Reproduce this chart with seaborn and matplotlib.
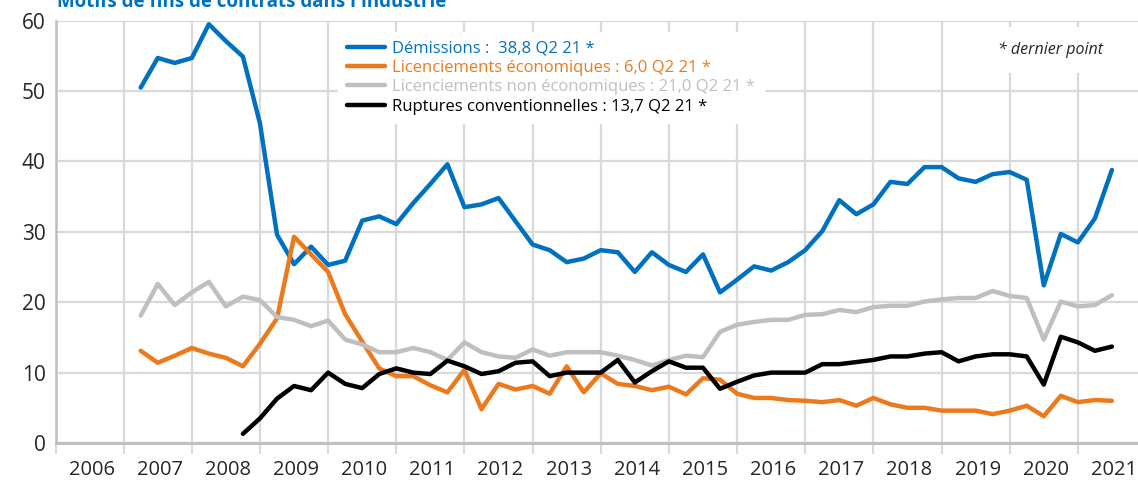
import numpy as np
import pandas as pd
import seaborn as sns
import matplotlib.pyplot as plt

# quarterly data, 2007 Q1 -> 2021 Q2
start_year = 2007
n_quarters = 58

demissions = [50.5, 54.7, 54.0, 54.7, 59.5, 57.1, 54.9, 45.4, 29.6, 25.4,
              27.9, 25.3, 25.9, 31.6, 32.2, 31.1, 34.1, 36.8, 39.6, 33.5,
              33.9, 34.8, 31.5, 28.2, 27.4, 25.7, 26.2, 27.4, 27.1, 24.3,
              27.1, 25.3, 24.3, 26.8, 21.4, 23.2, 25.1, 24.5, 25.7, 27.4,
              30.1, 34.5, 32.5, 33.9, 37.1, 36.8, 39.2, 39.2, 37.6, 37.1,
              38.2, 38.5, 37.4, 22.4, 29.7, 28.5, 31.9, 38.8]
licenciements_eco = [13.1, 11.4, 12.4, 13.5, 12.7, 12.1, 10.9, 14.1, 17.7, 29.3,
                     26.8, 24.3, 18.3, 14.4, 10.6, 9.5, 9.5, 8.2, 7.2, 10.4,
                     4.8, 8.4, 7.6, 8.1, 7.0, 10.9, 7.2, 9.9, 8.4, 8.1,
                     7.5, 8.0, 6.9, 9.2, 9.0, 7.0, 6.4, 6.4, 6.1, 6.0,
                     5.8, 6.1, 5.3, 6.4, 5.5, 5.0, 5.0, 4.6, 4.6, 4.6,
                     4.1, 4.6, 5.3, 3.8, 6.7, 5.8, 6.1, 6.0]
licenciements_non_eco = [18.1, 22.6, 19.6, 21.4, 22.9, 19.4, 20.8, 20.3, 17.9, 17.5,
                         16.6, 17.4, 14.7, 14.0, 12.9, 12.9, 13.5, 12.9, 11.8, 14.3,
                         12.9, 12.3, 12.1, 13.3, 12.4, 12.9, 12.9, 12.9, 12.4, 11.8,
                         11.0, 11.8, 12.4, 12.2, 15.8, 16.8, 17.2, 17.5, 17.5, 18.2,
                         18.3, 18.9, 18.6, 19.3, 19.5, 19.5, 20.1, 20.4, 20.6, 20.6,
                         21.6, 20.9, 20.6, 14.7, 20.1, 19.4, 19.6, 21.0]
ruptures = [np.nan, np.nan, np.nan, np.nan, np.nan, np.nan, 1.3, 3.5, 6.3, 8.1,
            7.5, 10.0, 8.4, 7.8, 9.8, 10.6, 10.0, 9.8, 11.7, 10.9,
            9.8, 10.2, 11.4, 11.6, 9.5, 10.0, 10.0, 10.0, 11.8, 8.6,
            10.2, 11.6, 10.7, 10.7, 7.7, 8.7, 9.6, 10.0, 10.0, 10.0,
            11.2, 11.2, 11.5, 11.8, 12.3, 12.3, 12.7, 12.9, 11.6, 12.3,
            12.6, 12.6, 12.3, 8.3, 15.1, 14.3, 13.1, 13.7]

labels = ["Démissions :  38,8 Q2 21 *",
          "Licenciements économiques : 6,0 Q2 21 *",
          "Licenciements non économiques : 21,0 Q2 21 *",
          "Ruptures conventionnelles : 13,7 Q2 21 *"]
colors = ["#0070C0", "#EC7A1C", "#BFBFBF", "#000000"]
year_labels = [str(y) for y in range(2006, 2022)]

x = start_year + np.arange(n_quarters) / 4
df = pd.DataFrame({"x": x, "dem": demissions, "eco": licenciements_eco,
                   "noneco": licenciements_non_eco, "rup": ruptures})

sns.set_style("white")
plt.rcParams["font.family"] = ["Open Sans", "DejaVu Sans"]

fig = plt.figure(figsize=(11.38, 4.82), dpi=100)
ax = fig.add_axes([55.5 / 1138, 39 / 482, 1090.5 / 1138, 422.3 / 482])

for col, lab, c in zip(["dem", "eco", "noneco", "rup"], labels, colors):
    sns.lineplot(data=df, x="x", y=col, ax=ax, color=c, linewidth=3.2, label=lab)

ax.set_xlim(2005.75, 2021.75)
ax.set_ylim(0, 60)
ax.set_axisbelow(True)

ax.set_xticks(np.arange(2005.75, 2022, 1))
ax.set_xticklabels([])
ax.set_xticks(np.arange(2006, 2022) + 0.28, minor=True)
ax.set_xticklabels(year_labels, minor=True)
ax.tick_params(axis="x", which="major", length=8, width=1.5, color="#D9D9D9",
               direction="out", bottom=True)
ax.tick_params(axis="x", which="minor", length=0, pad=12, labelsize=14.5)
ax.set_yticks(range(0, 61, 10))
ax.tick_params(axis="y", length=0, pad=7, labelsize=15)
ax.grid(True, color="#D9D9D9", linewidth=1.6)
ax.set_xlabel("")
ax.set_ylabel("")

for s in ["top", "right"]:
    ax.spines[s].set_visible(False)
ax.spines["left"].set_color("#BFBFBF")
ax.spines["left"].set_linewidth(1.8)
ax.spines["bottom"].set_color("#BFBFBF")
ax.spines["bottom"].set_linewidth(2.2)

leg = ax.legend(loc="upper left", bbox_to_anchor=(330 / 1138, 1 - 24 / 482),
                bbox_transform=fig.transFigure, fontsize=12, frameon=True,
                fancybox=False, framealpha=1, edgecolor="white", facecolor="white",
                borderpad=0.5, labelspacing=0.2, handlelength=2.3,
                handletextpad=0.45, labelcolor="linecolor")
for h in leg.get_lines():
    h.set_linewidth(3.2)

fig.text(1103 / 1138, 1 - 50 / 482, "* dernier point", ha="right", va="center",
         fontsize=11.5, style="italic",
         bbox=dict(boxstyle="square,pad=0.9", facecolor="white", edgecolor="none"))

fig.text(57 / 1138, 1 - 7 / 482, "Motifs de fins de contrats dans l'industrie",
         ha="left", va="baseline", fontsize=13.5, fontweight="bold", color="#0070C0")

fig.savefig("out.png", dpi=100)
